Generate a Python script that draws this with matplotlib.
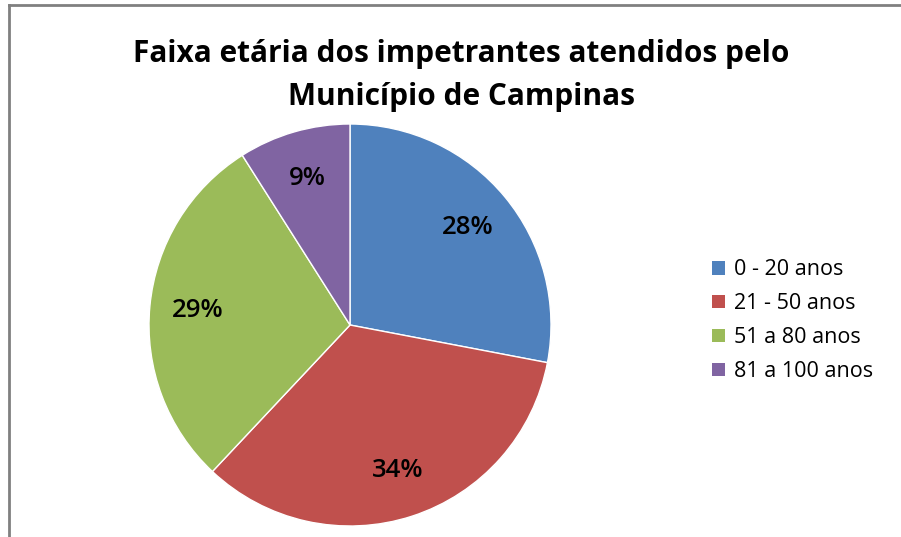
import matplotlib
matplotlib.use("Agg")
from matplotlib import pyplot as plt
from matplotlib.lines import Line2D
from matplotlib.patches import Patch

# chart data
faixas = ['0 - 20 anos', '21 - 50 anos', '51 a 80 anos', '81 a 100 anos']
percentuais = [28, 34, 29, 9]
cores = ['#4F81BD', '#C0504D', '#9BBB59', '#8064A2']

plt.rcParams['font.family'] = ['Open Sans', 'DejaVu Sans']

fig = plt.figure(figsize=(9.01, 5.37), dpi=100)

# pie area, center around (350, 325) px, radius ~201 px
ax = fig.add_axes([149 / 901, 11 / 537, 402 / 901, 402 / 537])
wedges, texts, autotexts = ax.pie(
    percentuais, colors=cores, startangle=90, counterclock=False,
    autopct='%d%%', pctdistance=0.76, radius=1.0,
    wedgeprops=dict(edgecolor='white', linewidth=1.0),
    textprops=dict(fontsize=18.5, fontweight='semibold', color='black'))
ax.set_xlim(-1.0, 1.0)
ax.set_ylim(-1.0, 1.0)
ax.set_aspect('equal')
ax.axis('off')

fig.text(0.512, 0.899, 'Faixa etária dos impetrantes atendidos pelo',
         ha='center', va='center', fontsize=21.5, fontweight='bold')
fig.text(0.512, 0.82, 'Município de Campinas',
         ha='center', va='center', fontsize=21.5, fontweight='bold')

handles = [Patch(facecolor=c, edgecolor='none') for c in cores]
fig.legend(handles, faixas, loc='upper left', bbox_to_anchor=(0.769, 0.553),
           frameon=False, fontsize=15.5, handlelength=0.58, handleheight=0.58,
           handletextpad=0.42, labelspacing=0.6)

# chart frame (top and left visible)
fig.add_artist(Line2D([9 / 901, 1.0], [1 - 5 / 537, 1 - 5 / 537],
                      transform=fig.transFigure, color='#808080', linewidth=2))
fig.add_artist(Line2D([9 / 901, 9 / 901], [0.0, 1 - 5 / 537],
                      transform=fig.transFigure, color='#808080', linewidth=2))

plt.savefig("out.png", dpi=100)
